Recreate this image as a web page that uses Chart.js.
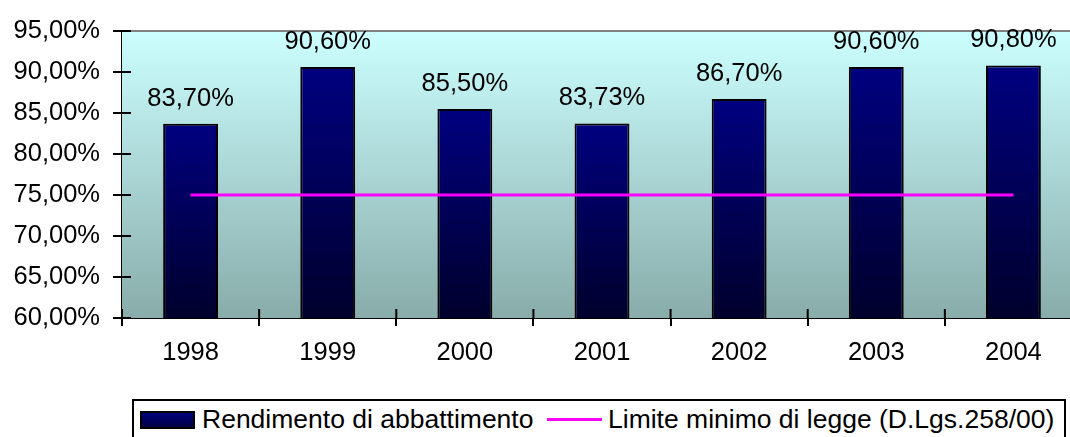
<!DOCTYPE html>
<html>
<head>
<meta charset="utf-8">
<script src="https://cdn.jsdelivr.net/npm/chart.js@4/dist/chart.umd.min.js"></script>
<style>
  html, body { margin:0; padding:0; background:#fff; overflow:hidden; width:1070px; height:437px; }
  #wrap { position:relative; width:1082px; height:437px; }
  #chart { position:absolute; left:0; top:0; }
  .legend { position:absolute; left:132px; top:399px; width:930px; height:50px; border:2px solid #000; background:#fff;
    font-family:"Liberation Sans", Arial, sans-serif; font-size:26.5px; color:#000; }
  .lg-item { position:absolute; white-space:nowrap; line-height:26px; }
  .sw-bar { position:absolute; left:6px; top:10px; width:51px; height:14px; border:2px solid #000;
    background:linear-gradient(#000080, #000040); }
  .sw-line { position:absolute; left:413px; top:17px; width:55px; height:3px; background:#FF00FF; }
</style>
</head>
<body>
<div id="wrap">
  <canvas id="chart" width="1082" height="437"></canvas>
  <div class="legend">
    <div class="sw-bar"></div>
    <div class="lg-item" id="lg1" style="left:68px;top:5px"></div>
    <div class="sw-line"></div>
    <div class="lg-item" id="lg2" style="left:474px;top:5px"></div>
  </div>
</div>
<script>
// categories and series
const years = ['1998', '1999', '2000', '2001', '2002', '2003', '2004'];
const rendimento = [83.70, 90.60, 85.50, 83.73, 86.70, 90.60, 90.80];
const limite = [75, 75, 75, 75, 75, 75, 75];
const seriesNames = ['Rendimento di abbattimento', 'Limite minimo di legge (D.Lgs.258/00)'];
const yMin = 60, yMax = 95, yStep = 5;

const FONT = '"Liberation Sans", Arial, sans-serif';
const pct = v => v.toFixed(2).replace('.', ',') + '%';

document.getElementById('lg1').textContent = seriesNames[0];
document.getElementById('lg2').textContent = seriesNames[1];

// plot background gradient + cross tick marks inside the plot
const plotDeco = {
  id: 'plotDeco',
  beforeDatasetsDraw(chart) {
    const { ctx, chartArea: a } = chart;
    const g = ctx.createLinearGradient(0, a.top, 0, a.bottom);
    g.addColorStop(0, '#CCFFFF');
    g.addColorStop(1, '#88ACAA');
    ctx.save();
    ctx.fillStyle = g;
    ctx.fillRect(a.left, a.top, a.right - a.left, a.bottom - a.top);
    // top border of plot area
    ctx.strokeStyle = '#808080'; ctx.lineWidth = 2;
    ctx.beginPath(); ctx.moveTo(a.left, a.top); ctx.lineTo(a.right, a.top); ctx.stroke();
    ctx.restore();
  },
  afterDatasetsDraw(chart) {
    const { ctx, chartArea: a, scales } = chart;
    ctx.save();
    ctx.strokeStyle = '#000'; ctx.lineWidth = 2;
    ctx.beginPath();
    scales.y.ticks.forEach((t, i) => {
      const y = scales.y.getPixelForTick(i);
      ctx.moveTo(a.left, y); ctx.lineTo(a.left + 9, y);
    });
    const half = (scales.x.getPixelForValue(1) - scales.x.getPixelForValue(0)) / 2;
    for (let i = 0; i <= years.length; i++) {
      const x = i === years.length ? a.right : scales.x.getPixelForValue(i) - half;
      ctx.moveTo(x, a.bottom); ctx.lineTo(x, a.bottom - 9);
    }
    ctx.stroke();
    // value labels above bars
    const meta = chart.getDatasetMeta(0);
    ctx.fillStyle = '#000';
    ctx.font = '25.5px ' + FONT;
    ctx.textAlign = 'center';
    ctx.textBaseline = 'alphabetic';
    meta.data.forEach((bar, i) => {
      ctx.fillText(pct(rendimento[i]), bar.x, bar.y - 18);
    });
    ctx.restore();
  }
};

new Chart(document.getElementById('chart'), {
  data: {
    labels: years,
    datasets: [
      {
        type: 'bar', label: seriesNames[0], data: rendimento, order: 2,
        barPercentage: 0.4, categoryPercentage: 1,
        borderColor: '#000', borderWidth: 2, borderSkipped: 'bottom',
        backgroundColor: c => {
          const ch = c.chart;
          if (!ch.chartArea || c.parsed == null) return '#000080';
          const top = ch.scales.y.getPixelForValue(c.parsed.y);
          const g = ch.ctx.createLinearGradient(0, top, 0, ch.chartArea.bottom);
          g.addColorStop(0, '#000080');
          g.addColorStop(1, '#00002C');
          return g;
        }
      },
      {
        type: 'line', label: seriesNames[1], data: limite, order: 1,
        borderColor: '#FF00FF', borderWidth: 3, pointRadius: 0, fill: false, tension: 0
      }
    ]
  },
  options: {
    responsive: false,
    animation: false,
    devicePixelRatio: 1,
    layout: { padding: { top: 31, right: 0, left: 0, bottom: 0 } },
    plugins: { legend: { display: false }, tooltip: { enabled: false } },
    scales: {
      x: {
        offset: true,
        grid: { drawOnChartArea: false, offset: true, color: '#000', tickColor: '#000', tickLength: 8, lineWidth: 2 },
        border: { color: '#000', width: 2 },
        ticks: { color: '#000', font: { family: FONT, size: 25.5 }, padding: 12, maxRotation: 0, autoSkip: false },
        afterFit: s => { s.height = 437 - 318; }
      },
      y: {
        min: yMin, max: yMax,
        grid: { drawOnChartArea: false, color: '#000', tickColor: '#000', tickLength: 9, lineWidth: 2 },
        border: { color: '#000', width: 2 },
        ticks: { stepSize: yStep, color: '#000', font: { family: FONT, size: 25.5 }, padding: 13, callback: v => pct(v) },
        afterFit: s => { s.width = 122; }
      }
    }
  },
  plugins: [plotDeco]
});
</script>
</body>
</html>
